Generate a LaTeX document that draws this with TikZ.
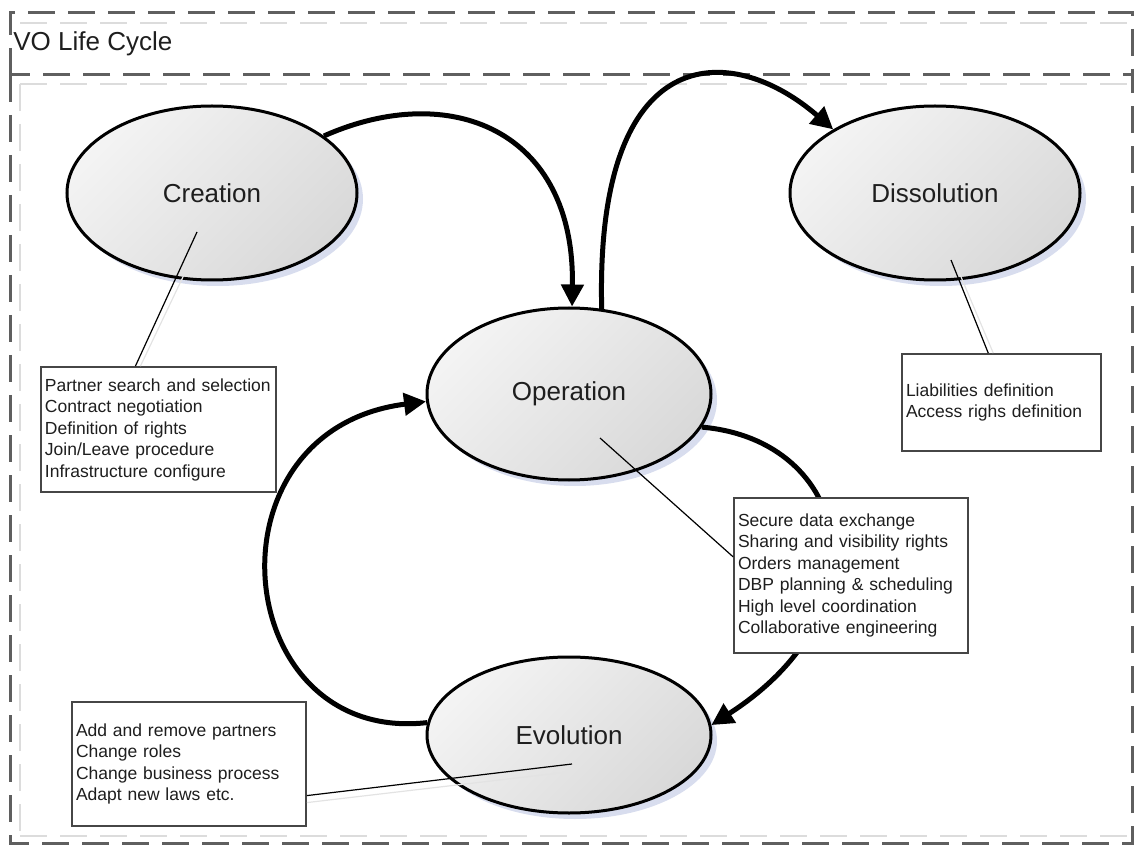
\documentclass[tikz,border=0pt]{standalone}
\usepackage{fontspec}
\setmainfont{Liberation Sans}
\usetikzlibrary{shapes.geometric,arrows.meta,shadows,calc}
\definecolor{framegray}{RGB}{95,95,95}
\definecolor{faintgray}{RGB}{220,220,220}
\definecolor{shadowblue}{RGB}{216,221,238}
\definecolor{boxline}{RGB}{70,70,70}
\definecolor{inktext}{RGB}{30,30,30}

\begin{document}
\begin{tikzpicture}[x=0.5pt,y=-0.5pt,
  frame/.style={draw=framegray, line width=1.5pt, dash pattern=on 13.5pt off 6.5pt},
  faint/.style={draw=faintgray, line width=0.8pt, dash pattern=on 13.5pt off 6.5pt},
  phase/.style={ellipse, draw=black, line width=1.5pt, top color=gray!9, bottom color=gray!30,
    shading angle=45, inner sep=0pt, font=\fontsize{13}{15}\selectfont, text=inktext,
    general shadow={fill=shadowblue, shadow xshift=3pt, shadow yshift=-3pt}},
  flow/.style={line width=2.5pt, -{Triangle[length=11pt,width=11pt]}},
  notebox/.style={draw=boxline, line width=0.9pt, fill=white, inner xsep=2pt, inner ysep=0pt,
    align=left, font=\fontsize{8.75}{10.75}\selectfont, text=inktext},
  callout/.style={draw=black, line width=0.6pt},
  calloutshade/.style={draw=gray!22, line width=0.6pt},
]
\useasboundingbox (0,0) rectangle (1136,845);

% dashed frames: header strip and body
\draw[faint] (20,23) -- (1127,23);
\draw[faint] (20,84) -- (1127,84);
\draw[faint] (20,836) -- (1127,836);
\draw[faint] (20,84) -- (20,836);
\draw[frame] (10,75) -- (10,13) -- (1132,13) -- (1132,75);
\draw[frame] (10,75) rectangle (1132,843);
\node[anchor=west, inner sep=0pt, font=\fontsize{13}{15}\selectfont, text=inktext] (title) at (13,44) {VO Life Cycle};

% life cycle phases
\node[phase, minimum width=145pt, minimum height=87pt] (cre) at (212,193) {Creation};
\node[phase, minimum width=145pt, minimum height=87pt] (dis) at (935,193) {Dissolution};
\node[phase, minimum width=142pt, minimum height=86pt] (ope) at (569,394) {Operation};
\node[phase, minimum width=142pt, minimum height=78pt] (evo) at (569,735) {Evolution};

% transitions
\draw[flow] (cre.27) .. controls (450,80) and (575,130) .. (ope.88);
\draw[flow] (ope.69) .. controls (595,40) and (730,40) .. (dis.148);
\draw[flow] (ope.346) .. controls (850,440) and (890,610) .. (evo.4);
\draw[flow] (evo.175) .. controls (230,745) and (200,430) .. (ope.183);

% activity notes
\node[notebox, minimum height=62.5pt, text width=113.5pt] (crenote) at (158.5,429.5)
  {Partner search and selection\\Contract negotiation\\Definition of rights\\Join/Leave procedure\\Infrastructure configure};
\node[notebox, minimum height=48.5pt, text width=95.5pt] (disnote) at (1001.5,402.5)
  {Liabilities definition\\Access righs definition};
\node[notebox, minimum height=77.5pt, text width=113pt] (openote) at (851,575.5)
  {Secure data exchange\\Sharing and visibility rights\\Orders management\\DBP planning \& scheduling\\High level coordination\\Collaborative engineering};
\node[notebox, minimum height=62pt, text width=113pt] (evonote) at (189,764)
  {Add and remove partners\\Change roles\\Change business process\\Adapt new laws etc.};

% callout pins
\coordinate (crepin) at (197,232);
\coordinate (dispin) at (951,260);
\coordinate (opepin) at (600,438);
\coordinate (evopin) at (572,764);

\draw[calloutshade] ($(crepin)+(5,5)$) -- ($(crenote.110)+(5,0)$);
\draw[calloutshade] ($(dispin)+(5,5)$) -- ($(disnote.105)+(5,0)$);
\draw[calloutshade] ($(evopin)+(4,7)$) -- ($(evonote.345)+(0,7)$);
\draw[callout] (crepin) -- (crenote.110);
\draw[callout] (dispin) -- (disnote.105);
\draw[callout] (opepin) -- (openote.171);
\draw[callout] (evopin) -- (evonote.345);
\end{tikzpicture}
\end{document}
